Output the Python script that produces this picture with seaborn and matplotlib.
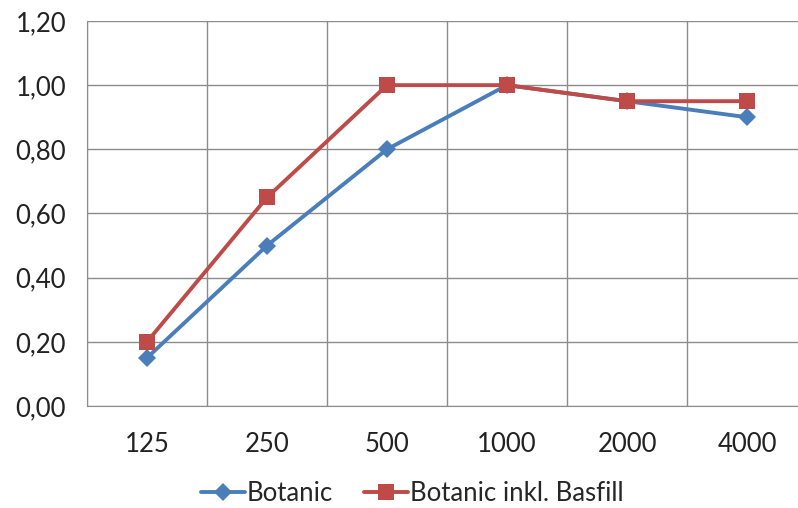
import pandas as pd
import matplotlib.pyplot as plt
import seaborn as sns
from matplotlib.ticker import FuncFormatter

# Values
frequencies = ['125', '250', '500', '1000', '2000', '4000']
botanic = [0.15, 0.50, 0.80, 1.00, 0.95, 0.90]
botanic_basfill = [0.20, 0.65, 1.00, 1.00, 0.95, 0.95]

df = pd.DataFrame({
    'freq': frequencies * 2,
    'value': botanic + botanic_basfill,
    'series': ['Botanic'] * 6 + ['Botanic inkl. Basfill'] * 6,
})

sns.set_style('white')
plt.rcParams['font.family'] = ['Lato', 'DejaVu Sans']

fig = plt.figure(figsize=(7.98, 5.08), dpi=100)
ax = fig.add_axes([0.109, 0.2008, 0.9023, 0.7579])

palette = {'Botanic': '#4a7ebb', 'Botanic inkl. Basfill': '#be4b48'}
markers = {'Botanic': 'D', 'Botanic inkl. Basfill': 's'}
sizes = {'Botanic': 9, 'Botanic inkl. Basfill': 11}

for name in ['Botanic', 'Botanic inkl. Basfill']:
    sub = df[df['series'] == name]
    sns.lineplot(data=sub, x='freq', y='value', ax=ax, color=palette[name],
                 marker=markers[name], markersize=sizes[name], linewidth=2.8,
                 markeredgewidth=0, label=name, sort=False)

ax.set_xlim(-0.5, 5.5)
ax.set_ylim(0, 1.2)
ax.set_yticks([0, 0.2, 0.4, 0.6, 0.8, 1.0, 1.2])
ax.yaxis.set_major_formatter(FuncFormatter(lambda v, p: f'{v:.2f}'.replace('.', ',')))
ax.set_xticks(range(len(frequencies)))
ax.set_xticklabels(frequencies)
ax.set_xticks([i - 0.5 for i in range(len(frequencies) + 1)], minor=True)

ax.grid(True, axis='y', which='major', color='#8c8c8c', linewidth=1)
ax.grid(True, axis='x', which='minor', color='#8c8c8c', linewidth=1)
ax.set_axisbelow(True)

for s in ['top', 'right']:
    ax.spines[s].set_visible(False)
ax.spines['left'].set_color('#8c8c8c')
ax.spines['bottom'].set_color('#8c8c8c')

ax.tick_params(axis='x', which='major', length=0, labelsize=18.5, pad=19, colors='#222222')
ax.tick_params(axis='x', which='minor', length=7, color='#8c8c8c', width=1)
ax.tick_params(axis='y', which='major', length=7, color='#8c8c8c', labelsize=18.5, pad=8,
               labelcolor='#222222')
ax.set_xlabel('')
ax.set_ylabel('')

ax.legend(loc='center', bbox_to_anchor=(0.452, -0.226), ncol=2, frameon=False,
          fontsize=18.5, handlelength=1.7, columnspacing=1.2, handletextpad=0.1)

fig.savefig('out.png', dpi=100)
